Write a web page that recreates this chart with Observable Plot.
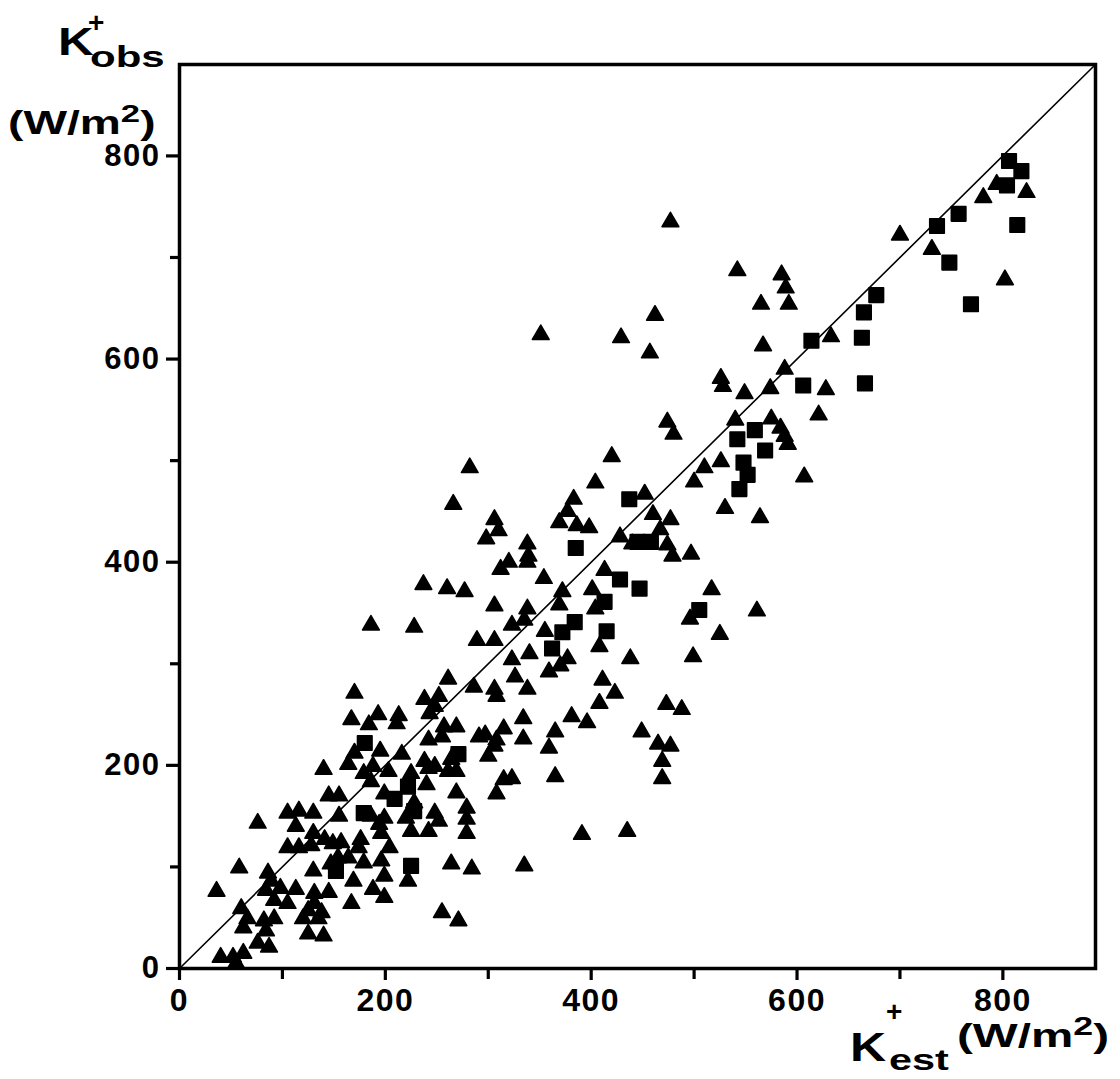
<!DOCTYPE html>
<html>
<head>
<meta charset="utf-8">
<script src="https://cdn.jsdelivr.net/npm/d3@7"></script>
<script src="https://cdn.jsdelivr.net/npm/@observablehq/plot@0.6"></script>
<style>
  html, body { margin: 0; padding: 0; background: #fff; }
  #chart { width: 1120px; height: 1079px; }
  svg { font-family: "Liberation Sans", Arial, Helvetica, sans-serif; }
  svg g[aria-label$="tick"] path { stroke-width: 3.2px; }
  svg g[aria-label$="tick label"] text { letter-spacing: 1.5px; }
</style>
</head>
<body>
<div id="chart"></div>
<script>
// Triangles: K_est (x) and K_obs (y), W/m2
const triX = [823,781,794,700,731,802,585,589,565,592,567,633,588,574,628,621,575,
  477,542,462,351,429,457,528,549,526,
  474,480,540,584,588,591,420,526,510,607,500,404,383,377,369,386,398,452,530,564,477,467,460,428,440,474,479,497,413,372,369,401,404,517,496,561,525,408,438,499,377,370,
  282,266,306,310,298,338,339,338,320,312,354,237,260,277,306,338,335,323,186,228,355,289,306,340,323,
  261,286,170,238,252,248,243,167,193,184,213,211,257,269,242,255,291,170,164,195,216,238,248,264,261,269,140,179,188,203,186,225,242,145,155,240,269,199,228,279,279,279,105,116,130,76,155,186,199,220,248,252,194,113,196,225,242,130,141,149,157,105,116,128,176,174,204,154,164,196,179,147,58,264,284,86,130,199,169,222,89,98,113,84,188,199,131,145,36,92,105,131,167,60,66,82,92,125,138,120,135,255,271,84,62,125,140,76,87,40,52,62,55,
  326,359,306,308,338,411,423,408,473,488,381,396,334,315,297,308,334,365,449,465,477,359,306,300,469,469,365,315,323,308,391,435,335];
const triY = [764,759,772,722,708,678,683,670,654,654,613,622,590,571,570,545,541,
  735,687,643,624,621,606,573,566,581,
  538,526,540,532,524,516,504,499,493,484,479,478,462,450,439,436,434,467,453,444,442,432,447,425,418,417,406,408,392,371,358,373,354,373,344,352,329,317,305,307,305,298,
  493,457,442,431,423,418,406,400,400,393,384,378,374,371,357,354,343,338,338,336,332,323,323,310,304,
  285,277,271,265,268,258,251,245,250,240,249,241,238,238,225,228,228,212,201,214,211,204,199,206,194,194,196,192,199,194,184,192,197,170,170,181,173,172,163,158,147,133,153,155,153,143,150,150,148,148,153,145,142,140,133,135,135,133,127,123,124,119,119,121,127,119,119,109,109,106,104,103,99,103,98,94,96,91,86,86,86,79,78,77,78,70,74,75,76,67,64,64,64,59,49,47,49,57,55,49,49,55,47,37,40,34,32,25,21,11,11,15,5,
  287,292,275,268,275,284,271,261,260,255,248,242,246,236,230,225,226,233,233,221,219,217,219,209,204,187,189,186,187,172,132,135,101];

// Squares
const sqX = [806,818,804,757,736,814,748,769,677,665,663,614,666,606,
  559,542,569,548,552,544,437,445,458,385,428,447,413,505,384,415,372,362,
  180,222,271,152,225,209,179,228];
const sqY = [795,785,771,743,731,732,695,654,663,646,621,618,576,574,
  530,521,510,498,486,472,462,420,420,414,383,374,361,353,341,332,331,315,
  222,179,211,96,101,167,153,155];

// 1:1 line and axis ticks
const lineX = [0, 890];
const lineY = [0, 890];
const majorTicks = [0, 200, 400, 600, 800];
const minorTicks = [100, 300, 500, 700];

const tri = triX.map((x, i) => ({x, y: triY[i]}));
const sq = sqX.map((x, i) => ({x, y: sqY[i]}));
const diag = lineX.map((x, i) => ({x, y: lineY[i]}));

const font = "Liberation Sans, Arial, Helvetica, sans-serif";

const chart = Plot.plot({
  width: 1120,
  height: 1079,
  marginLeft: 179,
  marginRight: 25,
  marginTop: 64,
  marginBottom: 111,
  style: {fontFamily: font, background: "white", color: "black"},
  x: {domain: [0, 890]},
  y: {domain: [0, 890]},
  marks: [
    Plot.line(diag, {x: "x", y: "y", stroke: "black", strokeWidth: 1.6}),
    Plot.dot(tri, {x: "x", y: "y", symbol: "triangle", r: 6.2, fill: "black", stroke: "black", strokeWidth: 1.6, strokeLinejoin: "round"}),
    Plot.dot(sq, {x: "x", y: "y", symbol: "square", r: 8.2, fill: "black", stroke: "black", strokeWidth: 1.6, strokeLinejoin: "round"}),
    Plot.frame({stroke: "black", strokeWidth: 3.5}),
    Plot.axisX(majorTicks, {tickSize: 12, tickPadding: 8, strokeWidth: 3, fontSize: 32, fontWeight: "bold", label: null}),
    Plot.axisX(minorTicks, {tickSize: 11, tickFormat: () => "", strokeWidth: 3, label: null}),
    Plot.axisY(majorTicks, {tickSize: 13, tickPadding: 6, strokeWidth: 3, fontSize: 31, fontWeight: "bold", label: null}),
    Plot.axisY(minorTicks, {tickSize: 9, tickFormat: () => "", strokeWidth: 3, label: null})
  ]
});

document.getElementById("chart").appendChild(chart);

// Axis titles with sub/superscripts (wide bold lettering)
const svg = d3.select(chart);
const g = svg.append("g")
  .attr("font-family", font)
  .attr("font-weight", "bold")
  .attr("fill", "black")
  .attr("text-anchor", "start");

function put(str, x, y, size, sx) {
  g.append("g")
    .attr("transform", `translate(${x},${y}) scale(${sx},1)`)
    .append("text").attr("x", 0).attr("y", 0).attr("font-size", size).text(str);
}
function unit(x, y, size, sx) {
  const t = g.append("g")
    .attr("transform", `translate(${x},${y}) scale(${sx},1)`)
    .append("text").attr("x", 0).attr("y", 0).attr("font-size", size);
  t.append("tspan").text("(W/m");
  t.append("tspan").attr("dy", -12).attr("font-size", size * 0.75).text("2");
  t.append("tspan").attr("dy", 12).text(")");
}

// Y title: K+obs (W/m2)
put("K", 58, 55, 38, 1.3);
put("+", 88, 32, 28, 1.0);
put("obs", 90, 67, 30, 1.4);
unit(8, 134, 33, 1.4);

// X title: K+est (W/m2)
put("K", 850, 1061, 40, 1.25);
put("+", 886, 1021, 28, 1.0);
put("est", 889, 1070, 30, 1.38);
unit(957, 1047, 34, 1.4);
</script>
</body>
</html>
